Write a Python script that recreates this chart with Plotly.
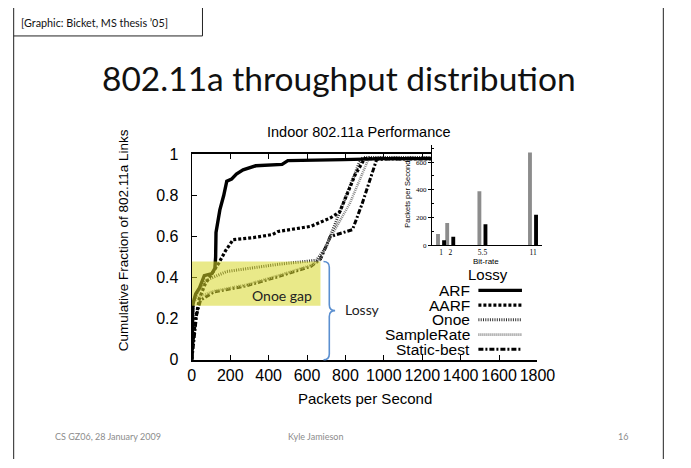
import plotly.graph_objects as go

# ---------------- data ----------------
x_ticks = [0, 200, 400, 600, 800, 1000, 1200, 1400, 1600, 1800]
y_ticks = [0, 0.2, 0.4, 0.6, 0.8, 1]

arf_x = [0, 2, 5, 20, 40, 65, 105, 120, 124, 126, 146, 166, 182, 207, 232, 267, 333, 470, 500, 790, 1000, 1800]
arf_y = [0, 0.10, 0.27, 0.32, 0.35, 0.41, 0.42, 0.445, 0.50, 0.62, 0.73, 0.80, 0.87, 0.88, 0.905, 0.925, 0.945, 0.952, 0.97, 0.975, 0.98, 0.98]

aarf_x = [0, 5, 20, 40, 70, 110, 140, 175, 215, 320, 420, 450, 620, 720, 770, 850, 900, 1800]
aarf_y = [0, 0.08, 0.20, 0.30, 0.37, 0.43, 0.47, 0.53, 0.585, 0.595, 0.61, 0.625, 0.65, 0.69, 0.72, 0.90, 0.98, 0.98]

onoe_x = [0, 3, 8, 30, 70, 182, 450, 650, 700, 787, 872, 890, 1800]
onoe_y = [0, 0.20, 0.28, 0.33, 0.385, 0.43, 0.465, 0.485, 0.55, 0.76, 0.96, 0.985, 0.985]

samplerate_x = [0, 3, 10, 30, 115, 282, 450, 620, 670, 700, 822, 923, 1800]
samplerate_y = [0, 0.20, 0.28, 0.305, 0.335, 0.365, 0.41, 0.46, 0.49, 0.56, 0.76, 0.985, 0.985]

static_x = [0, 10, 25, 45, 115, 282, 450, 620, 670, 721, 837, 887, 963, 1800]
static_y = [0, 0.10, 0.22, 0.29, 0.33, 0.36, 0.405, 0.455, 0.49, 0.60, 0.634, 0.76, 0.977, 0.985]

series_names = ["ARF", "AARF", "Onoe", "SampleRate", "Static-best"]

# inset (bit-rate vs packets per second)
bit_rates = [1, 2, 5.5, 11]
bit_rate_labels = ["1", "2", "5.5", "11"]
gray_vals = [80, 160, 390, 670]
black_vals = [35, 60, 150, 220]
inset_y_ticks = [0, 200, 400, 600]

# highlighted "Onoe gap" band (data units)
gap_x = [0, 670]
gap_y = [0.263, 0.479]

# ---------------- helpers ----------------
W, H = 691, 468
def px(x):
    return x / W
def py(y):
    return 1 - y / H

styles = [
    dict(color="black", width=3.4),
    dict(color="black", width=3.2, dash="3px,2px"),
    dict(color="#333333", width=3.0, dash="1px,1.3px"),
    dict(color="#888888", width=2.6, dash="1px,1px"),
    dict(color="black", width=3.0, dash="5px,2px,2px,2px"),
]

AX_FONT = "Liberation Sans, Arial, sans-serif"
SLIDE_FONT = "Lato, Open Sans, sans-serif"
SERIF = "Liberation Serif, Times New Roman, serif"

fig = go.Figure()

xs_all = [arf_x, aarf_x, onoe_x, samplerate_x, static_x]
ys_all = [arf_y, aarf_y, onoe_y, samplerate_y, static_y]
order = [4, 3, 2, 1, 0]
for i in order:
    fig.add_trace(go.Scatter(
        x=xs_all[i], y=ys_all[i], mode="lines", name=series_names[i],
        line=styles[i], xaxis="x", yaxis="y", showlegend=False, hoverinfo="skip"))

# inset bars
fig.add_trace(go.Bar(x=bit_rates, y=gray_vals, xaxis="x3", yaxis="y3",
                     marker=dict(color="#8c8c8c", line=dict(width=0)),
                     width=0.42, offset=-0.55, showlegend=False, hoverinfo="skip"))
fig.add_trace(go.Bar(x=bit_rates, y=black_vals, xaxis="x3", yaxis="y3",
                     marker=dict(color="black", line=dict(width=0)),
                     width=0.42, offset=0.11, showlegend=False, hoverinfo="skip"))

shapes = []
shapes.append(dict(type="rect", xref="x", yref="y", x0=gap_x[0], x1=gap_x[1], y0=gap_y[0], y1=gap_y[1],
                   fillcolor="rgba(215,215,40,0.55)", line=dict(width=0), layer="above"))

def P(x, y):
    return f"{px(x):.5f},{py(y):.5f}"
bx, top, bot, tipx = 330, 263, 365, 342
mid = (top + bot) / 2
path = (f"M {P(bx, top)} Q {P(bx+6, top)} {P(bx+6, top+6)} L {P(bx+6, mid-6)} "
        f"Q {P(bx+6, mid)} {P(tipx, mid)} Q {P(bx+6, mid)} {P(bx+6, mid+6)} "
        f"L {P(bx+6, bot-6)} Q {P(bx+6, bot)} {P(bx, bot)}")
shapes.append(dict(type="path", xref="paper", yref="paper", path=path,
                   line=dict(color="#5b8fd0", width=1.6), layer="above"))

leg_y0, leg_dy = 293, 15.3
for i in range(5):
    yy = leg_y0 + i * leg_dy
    shapes.append(dict(type="line", xref="paper", yref="paper", x0=px(490), x1=px(535),
                       y0=py(yy), y1=py(yy), line=dict(styles[i]), layer="above"))

frame = dict(color="#222222", width=1)
shapes.append(dict(type="line", xref="paper", yref="paper", x0=px(10), x1=px(10), y0=py(0), y1=py(468), line=frame))
shapes.append(dict(type="line", xref="paper", yref="paper", x0=px(681), x1=px(681), y0=py(0), y1=py(468), line=frame))
shapes.append(dict(type="line", xref="paper", yref="paper", x0=px(10), x1=px(205), y0=py(29), y1=py(29), line=frame))
shapes.append(dict(type="line", xref="paper", yref="paper", x0=px(205), x1=px(205), y0=py(0), y1=py(29), line=frame))

annotations = []
def note(text, x, y, size, font=AX_FONT, color="black", xanchor="center", yanchor="middle", angle=0):
    annotations.append(dict(text=text, x=px(x), y=py(y), xref="paper", yref="paper",
                            showarrow=False, xanchor=xanchor, yanchor=yanchor, textangle=angle,
                            font=dict(family=font, size=size, color=color)))

note("[Graphic: Bicket, MS thesis \u201905]", 15, 15, 10.8, SLIDE_FONT, "#111111", xanchor="left")
note("802.11a throughput distribution", 346, 73, 33.5, SLIDE_FONT, "#111111")
note("Indoor 802.11a Performance", 367, 129, 14.5)
note("Cumulative Fraction of 802.11a Links", 123, 241, 13.5, angle=-90)
note("Packets per Second", 373, 405, 15)
note("Onoe gap", 287, 298, 14, SLIDE_FONT, "#222222")
note("Lossy", 350, 313, 14, SLIDE_FONT, "#222222", xanchor="left")
note("Lossy", 500, 277, 15)
for i, name in enumerate(series_names):
    note(name, 483, leg_y0 + i * leg_dy, 15.5, xanchor="right")
note("Packets per Second", 417, 193, 7.5, angle=-90)
note("Bit-rate", 498, 263, 8)
note("CS GZ06, 28 January 2009", 51, 445, 9, SLIDE_FONT, "#8c8c8c", xanchor="left")
note("Kyle Jamieson", 322, 445, 9, SLIDE_FONT, "#8c8c8c")
note("16", 639, 445, 9, SLIDE_FONT, "#8c8c8c")

fig.update_layout(
    width=W, height=H, margin=dict(l=0, r=0, t=0, b=0),
    paper_bgcolor="white", plot_bgcolor="white",
    showlegend=False,
    shapes=shapes, annotations=annotations,
    xaxis=dict(domain=[px(194), px(551)], range=[0, 1800], tickvals=x_ticks,
               ticks="inside", ticklen=5, tickcolor="black", showline=True, linecolor="black",
               linewidth=2, mirror="ticks", showgrid=False, zeroline=False,
               tickfont=dict(family=AX_FONT, size=16, color="black"), anchor="y"),
    yaxis=dict(domain=[py(365), py(152)], range=[0, 1], tickvals=y_ticks,
               ticks="inside", ticklen=5, tickcolor="black", showline=True, linecolor="black",
               linewidth=1.3, mirror=False, showgrid=False, zeroline=False,
               ticklabelstandoff=9,
               tickfont=dict(family=AX_FONT, size=16, color="black"), anchor="x"),
    # white panel pasted over the graph behind the inset
    xaxis2=dict(domain=[px(410), px(565)], range=[0, 1], visible=False, anchor="y2"),
    yaxis2=dict(domain=[py(268), py(132)], range=[0, 1], visible=False, anchor="x2"),
    # inset
    xaxis3=dict(domain=[px(442), px(556)], range=[0, 12], tickvals=bit_rates, ticktext=bit_rate_labels,
                ticks="", showline=True, linecolor="black", linewidth=1, showgrid=False, zeroline=False,
                tickfont=dict(family=SERIF, size=7.5, color="black"), anchor="y3"),
    yaxis3=dict(domain=[py(246), py(142)], range=[0, 725], tickvals=inset_y_ticks,
                ticks="outside", ticklen=3, tickcolor="black", showline=True, linecolor="black",
                linewidth=1, showgrid=False, zeroline=False,
                minor=dict(dtick=100, ticks="inside", ticklen=2, tickcolor="black"),
                tickfont=dict(family=SERIF, size=7, color="black"), anchor="x3"),
    # white panel behind the "Lossy" brace / legend
    xaxis4=dict(domain=[px(334), px(565)], range=[0, 1], visible=False, anchor="y4"),
    yaxis4=dict(domain=[py(367), py(268)], range=[0, 1], visible=False, anchor="x4"),
    barmode="overlay",
)

fig.write_html("out.html")
